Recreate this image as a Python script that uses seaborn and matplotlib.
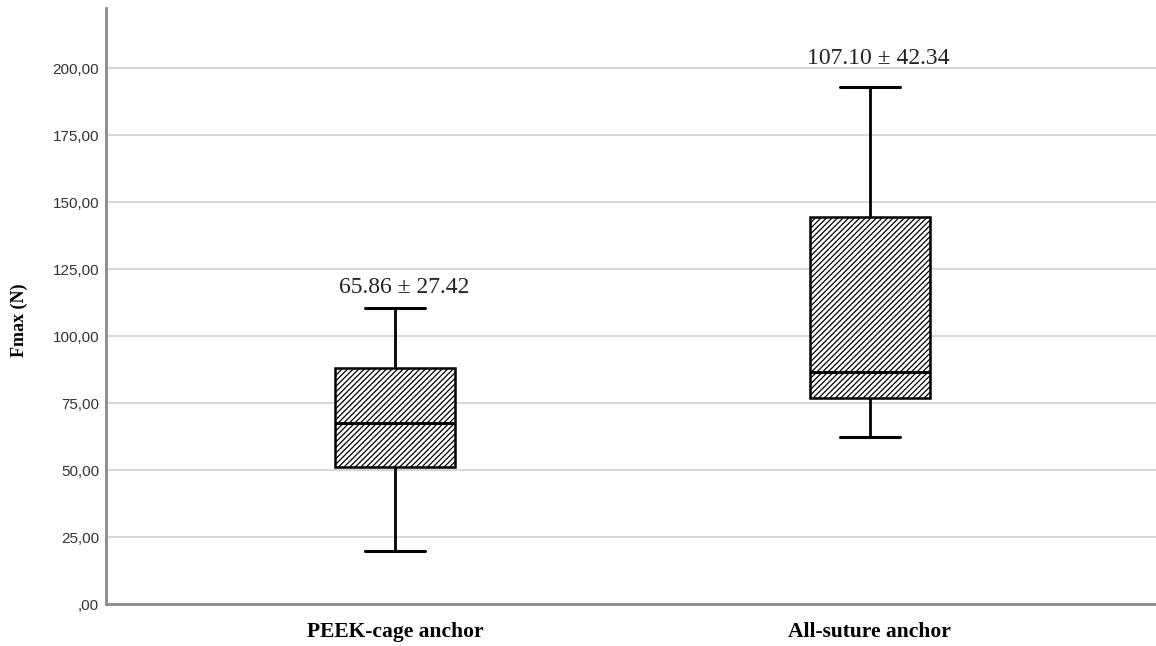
import matplotlib
matplotlib.use("Agg")
import matplotlib.pyplot as plt
import seaborn as sns
import pandas as pd

# ---- data ----
categories = ["PEEK-cage anchor", "All-suture anchor"]
# five-number summaries: min, Q1, median, Q3, max
peek_summary = [19.9, 51.3, 67.4, 88.0, 110.6]
allsuture_summary = [62.5, 77.0, 86.7, 144.6, 192.9]
mean_sd_labels = ["65.86 ± 27.42", "107.10 ± 42.34"]
y_ticks = [0, 25, 50, 75, 100, 125, 150, 175, 200]
y_tick_labels = [",00", "25,00", "50,00", "75,00", "100,00", "125,00",
                 "150,00", "175,00", "200,00"]
y_label = "Fmax (N)"

df = pd.DataFrame({
    "group": [categories[0]] * len(peek_summary) + [categories[1]] * len(allsuture_summary),
    "value": peek_summary + allsuture_summary,
})

sns.set_theme(style="white")
plt.rcParams["hatch.linewidth"] = 0.9
plt.rcParams["hatch.color"] = "black"

fig = plt.figure(figsize=(11.56, 6.46), dpi=100)
ax = fig.add_axes([106 / 1156, 42 / 646, 1050 / 1156, 595.7 / 646])

ax.yaxis.grid(True, color="#d6d6d6", linewidth=1.4)
ax.set_axisbelow(True)

sns.boxplot(data=df, x="group", y="value", order=categories, whis=(0, 100),
            width=0.253, color="white", linecolor="black", linewidth=1.8,
            fill=True, ax=ax,
            whiskerprops=dict(linewidth=2.0),
            capprops=dict(linewidth=2.2),
            medianprops=dict(linewidth=2.2))

for p in ax.patches:
    p.set_hatch("//////")
    p.set_edgecolor("black")
    p.set_facecolor("white")

ax.set_xlim(-0.610, 1.603)
ax.set_ylim(0, 222.4)
ax.set_yticks(y_ticks)
ax.set_yticklabels(y_tick_labels)
ax.tick_params(axis="both", length=0)
ax.tick_params(axis="y", pad=5, labelsize=11, labelcolor="#333333")
ax.tick_params(axis="x", pad=13)
for t in ax.get_yticklabels():
    t.set_family("Liberation Sans")
for t in ax.get_xticklabels():
    t.set_family("Liberation Serif")
    t.set_fontweight("bold")
    t.set_fontsize(15.5)
    t.set_color("black")

for s in ["top", "right"]:
    ax.spines[s].set_visible(False)
for s in ["left", "bottom"]:
    ax.spines[s].set_color("#8a8a8a")
    ax.spines[s].set_linewidth(2.0)

ax.set_xlabel("")
ax.set_ylabel(y_label, family="Liberation Serif", fontweight="bold",
              fontsize=13, color="black")
ax.yaxis.set_label_coords(-0.0743, 0.476)

summaries = [peek_summary, allsuture_summary]
label_offsets = [10.8, 16.6]
for i, (lab, summ) in enumerate(zip(mean_sd_labels, summaries)):
    ax.annotate(lab, xy=(i, max(summ)), xytext=(6, label_offsets[i]),
                textcoords="offset points", ha="center", va="baseline",
                fontsize=17, family="Liberation Serif", color="#222222")

fig.savefig("out.png", dpi=100)
